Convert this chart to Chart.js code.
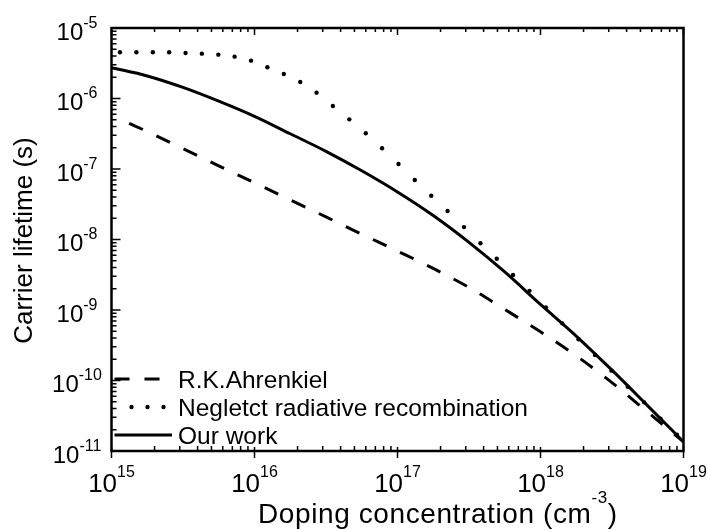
<!DOCTYPE html>
<html>
<head>
<meta charset="utf-8">
<script src="https://cdn.jsdelivr.net/npm/chart.js@4.4.0/dist/chart.umd.min.js"></script>
<style>
  html, body { margin: 0; padding: 0; background: #fff; }
</style>
</head>
<body>
<canvas id="lifetimeChart" width="708" height="530"></canvas>
<script>
// doping grid (cm^-3) for the solid curve
const doping = [1e15, 1.778e15, 3.162e15, 5.623e15, 1e16, 1.778e16, 3.162e16, 5.623e16,
  1e17, 1.778e17, 3.162e17, 5.623e17, 1e18, 1.778e18, 3.162e18, 5.623e18, 1e19];
const ourWork = [2.735e-6, 2.09e-6, 1.436e-6, 9.16e-7, 5.58e-7, 3.16e-7, 1.78e-7, 9.44e-8,
  4.73e-8, 2.19e-8, 9.12e-9, 3.47e-9, 1.20e-9, 4.27e-10, 1.40e-10, 4.37e-11, 1.35e-11];

// R.K.Ahrenkiel curve
const ahrenkielDoping = [1.33e15, 1.778e15, 3.162e15, 5.623e15, 1e16, 1.778e16, 3.162e16, 5.623e16,
  1e17, 1.778e17, 3.162e17, 5.623e17, 1e18, 1.778e18, 3.162e18, 5.623e18, 1e19];
const ahrenkiel = [4.45e-7, 3.40e-7, 1.95e-7, 1.11e-7, 6.37e-8, 3.65e-8, 2.09e-8, 1.19e-8,
  6.84e-9, 3.89e-9, 2.09e-9, 1.02e-9, 4.90e-10, 2.24e-10, 9.33e-11, 3.55e-11, 1.35e-11];

// radiative recombination neglected, one dot per point
const negletctDoping = [1.146e15, 1.493e15, 1.945e15, 2.529e15, 3.296e15, 4.285e15, 5.585e15,
  7.261e15, 9.462e15, 1.230e16, 1.603e16, 2.089e16, 2.716e16, 3.532e16, 4.603e16, 5.998e16,
  7.798e16, 1.016e17, 1.321e17, 1.722e17, 2.239e17, 2.917e17, 3.802e17, 4.943e17, 6.427e17,
  8.375e17, 1.091e18, 1.419e18, 1.845e18, 2.404e18, 3.133e18, 4.074e18, 5.309e18, 6.902e18, 8.995e18];
const negletct = [4.52e-6, 4.52e-6, 4.52e-6, 4.52e-6, 4.42e-6, 4.33e-6, 4.19e-6, 3.92e-6, 3.44e-6,
  2.77e-6, 2.23e-6, 1.71e-6, 1.21e-6, 7.83e-7, 5.06e-7, 3.21e-7, 1.97e-7, 1.18e-7, 6.98e-8,
  4.18e-8, 2.54e-8, 1.50e-8, 8.83e-9, 5.32e-9, 3.13e-9, 1.87e-9, 1.09e-9, 6.47e-10, 3.84e-10,
  2.30e-10, 1.38e-10, 8.17e-11, 4.90e-11, 2.88e-11, 1.70e-11];

const xDecades = [15, 16, 17, 18, 19];
const yDecades = [-11, -10, -9, -8, -7, -6, -5];

const FONT = 'Arial, "Liberation Sans", sans-serif';

const toPoints = (xs, ys) => xs.map((v, i) => ({ x: v, y: ys[i] }));

// "10" with a raised exponent, centred on cx
function drawPower(ctx, exp, cx, baseline, size, supSize, supRise) {
  ctx.font = size + 'px ' + FONT;
  const w1 = ctx.measureText('10').width;
  ctx.font = supSize + 'px ' + FONT;
  const w2 = ctx.measureText(exp).width;
  const x0 = cx - (w1 + w2) / 2;
  ctx.textAlign = 'left';
  ctx.textBaseline = 'alphabetic';
  ctx.font = size + 'px ' + FONT;
  ctx.fillText('10', x0, baseline);
  ctx.font = supSize + 'px ' + FONT;
  ctx.fillText(exp, x0 + w1, baseline - supRise);
}

const frameAndText = {
  id: 'frameAndText',
  afterDraw(chart) {
    const { ctx, chartArea: a, scales: { x, y } } = chart;
    ctx.save();
    ctx.strokeStyle = '#000';
    ctx.fillStyle = '#000';

    // frame
    ctx.lineWidth = 2.5;
    ctx.strokeRect(a.left, a.top, a.right - a.left, a.bottom - a.top);

    // x ticks: bottom and top, minor ticks inside
    ctx.lineWidth = 1.5;
    ctx.beginPath();
    xDecades.forEach(e => {
      for (let k = 1; k <= 9; k++) {
        if (e === 19 && k > 1) break;
        const px = x.getPixelForValue(k * Math.pow(10, e));
        if (k === 1) {
          ctx.moveTo(px, a.bottom - 4); ctx.lineTo(px, a.bottom + 7);
          ctx.moveTo(px, a.top); ctx.lineTo(px, a.top + 7);
        } else {
          ctx.moveTo(px, a.bottom); ctx.lineTo(px, a.bottom - 5);
          ctx.moveTo(px, a.top); ctx.lineTo(px, a.top + 4);
        }
      }
    });
    // y ticks on the left
    yDecades.forEach(e => {
      for (let k = 1; k <= 9; k++) {
        if (e === -5 && k > 1) break;
        const py = y.getPixelForValue(k * Math.pow(10, e));
        ctx.moveTo(a.left, py);
        ctx.lineTo(a.left + (k === 1 ? 9 : 5), py);
      }
    });
    ctx.stroke();

    // tick labels
    xDecades.forEach(e => {
      drawPower(ctx, String(e), x.getPixelForValue(Math.pow(10, e)), a.bottom + 41, 26, 16, 15);
    });
    yDecades.forEach(e => {
      drawPower(ctx, String(e), 77, y.getPixelForValue(Math.pow(10, e)) + 11.5, 24, 16, 12);
    });

    // axis titles
    ctx.textBaseline = 'alphabetic';
    ctx.textAlign = 'left';
    ctx.letterSpacing = '0.6px';
    ctx.font = '28px ' + FONT;
    const xt = 'Doping concentration (cm';
    const xtw = ctx.measureText(xt).width;
    const tx = 258, tb = 523;
    ctx.fillText(xt, tx, tb);
    ctx.font = '17px ' + FONT;
    const sw = ctx.measureText('-3').width;
    ctx.fillText('-3', tx + xtw, tb - 20);
    ctx.font = '28px ' + FONT;
    ctx.fillText(')', tx + xtw + sw, tb);
    ctx.letterSpacing = '0px';

    ctx.save();
    ctx.translate(31.5, (a.top + a.bottom) / 2 + 1);
    ctx.rotate(-Math.PI / 2);
    ctx.textAlign = 'center';
    ctx.font = '26px ' + FONT;
    ctx.fillText('Carrier lifetime (s)', 0, 0);
    ctx.restore();

    // legend, bottom-left inside the axes
    ctx.font = '24.5px ' + FONT;
    chart.data.datasets.forEach((ds, i) => {
      const cy = 379 + 28 * i;
      if (ds.showLine === false) {
        [131.5, 147.5, 163.5].forEach(dx => {
          ctx.beginPath();
          ctx.arc(dx, cy, ds.pointRadius, 0, Math.PI * 2);
          ctx.fill();
        });
      } else {
        ctx.lineWidth = ds.borderWidth;
        ctx.setLineDash(ds.borderDash || []);
        ctx.beginPath();
        ctx.moveTo(a.left + 3, cy);
        ctx.lineTo(172, cy);
        ctx.stroke();
        ctx.setLineDash([]);
      }
      ctx.fillText(ds.label, 178, cy + 8.6);
    });
    ctx.restore();
  }
};

new Chart(document.getElementById('lifetimeChart'), {
  type: 'line',
  data: {
    datasets: [
      {
        label: 'R.K.Ahrenkiel',
        data: toPoints(ahrenkielDoping, ahrenkiel),
        borderColor: '#000',
        borderWidth: 3,
        borderDash: [15, 15],
        pointRadius: 0,
        cubicInterpolationMode: 'monotone'
      },
      {
        label: 'Negletct radiative recombination',
        data: toPoints(negletctDoping, negletct),
        showLine: false,
        pointRadius: 2.2,
        pointBorderWidth: 0,
        pointBackgroundColor: '#000',
        borderColor: '#000'
      },
      {
        label: 'Our work',
        data: toPoints(doping, ourWork),
        borderColor: '#000',
        borderWidth: 3,
        pointRadius: 0,
        cubicInterpolationMode: 'monotone'
      }
    ]
  },
  options: {
    responsive: false,
    animation: false,
    layout: { padding: { top: 28, right: 24.5, left: 0, bottom: 0 } },
    plugins: { legend: { display: false }, tooltip: { enabled: false } },
    scales: {
      x: {
        type: 'logarithmic', min: 1e15, max: 1e19,
        grid: { display: false }, border: { display: false }, ticks: { display: false },
        afterFit(s) { s.height = 79; }
      },
      y: {
        type: 'logarithmic', min: 1e-11, max: 1e-5,
        grid: { display: false }, border: { display: false }, ticks: { display: false },
        afterFit(s) { s.width = 111.5; }
      }
    }
  },
  plugins: [frameAndText]
});
</script>
</body>
</html>
